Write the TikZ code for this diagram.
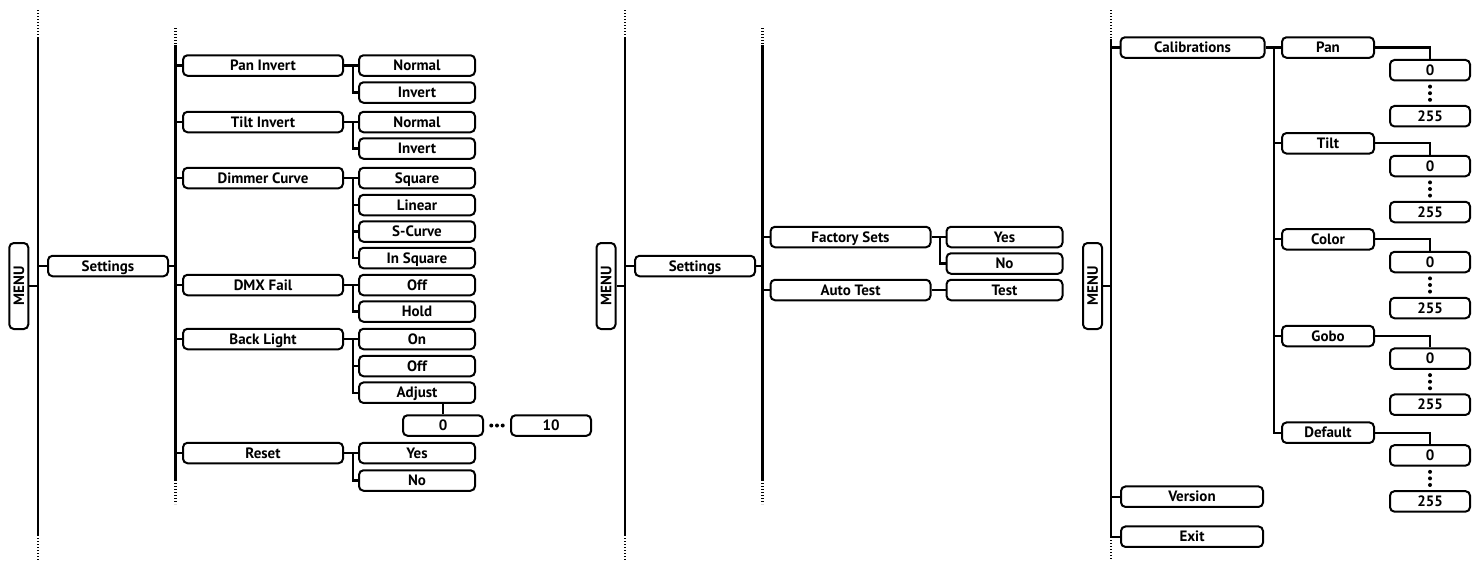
\documentclass[tikz,border=0pt]{standalone}
\usepackage{fontspec}
\setmainfont{PT Sans}
\usetikzlibrary{calc}
\begin{document}
\begin{tikzpicture}[x=1pt,y=-1pt,
  box/.style={draw, line width=2pt, rounded corners=4.5pt, minimum height=20.5pt, inner sep=0pt,
    text height=10.5pt, text depth=0pt, font=\bfseries\fontsize{15}{15}\selectfont},
  menubox/.style={box, rotate=90, minimum width=86pt, minimum height=19pt},
  conn/.style={line width=2.1pt},
  dotl/.style={line width=2.1pt, dash pattern=on 1.4pt off 1.6pt},
  lvA/.style={box, minimum width=160pt},
  lvB/.style={box, minimum width=116pt},
  vbox/.style={box, minimum width=80pt}]
\useasboundingbox (0,0) rectangle (1472,560);

% ================= LEFT SECTION =================
\coordinate (mlT) at (38,10); \coordinate (mlA) at (38,37);
\coordinate (mlB) at (38,535); \coordinate (mlE) at (38,560);
\draw[dotl] (mlT) -- (mlA); \draw[conn] (mlA) -- (mlB); \draw[dotl] (mlB) -- (mlE);
\node[menubox] (menuL) at (18.8,286) {MENU};
\draw[conn] (menuL.south) -- (menuL.south -| mlT);
\node[box, minimum width=120pt] (setL) at (108,266) {Settings};
\draw[conn] (setL.west) -- (setL.west -| mlT);

\coordinate (l2T) at (175.5,28); \coordinate (l2A) at (175.5,45);
\coordinate (l2B) at (175.5,480); \coordinate (l2E) at (175.5,504);
\draw[dotl] (l2T) -- (l2A); \draw[conn] (l2A) -- (l2B); \draw[dotl] (l2B) -- (l2E);
\draw[conn] (setL.east) -- (setL.east -| l2T);
\coordinate (jL) at (353,0);

\node[lvA] (panI) at (263,65.5) {Pan Invert};
\node[lvA] (tiltI) at (263,122) {Tilt Invert};
\node[lvA] (dimC) at (263,178) {Dimmer Curve};
\node[lvA] (dmxF) at (263,285) {DMX Fail};
\node[lvA] (backL) at (263,339) {Back Light};
\node[lvA] (resetL) at (263,453) {Reset};
\foreach \n in {panI,tiltI,dimC,dmxF,backL,resetL}
  \draw[conn] (\n.west) -- (\n.west -| l2T);

\node[lvB] (panN) at (417,65.5) {Normal};
\node[lvB] (panV) at (417,92.5) {Invert};
\node[lvB] (tiltN) at (417,122) {Normal};
\node[lvB] (tiltV) at (417,148.5) {Invert};
\node[lvB] (dSq) at (417,178) {Square};
\node[lvB] (dLin) at (417,205) {Linear};
\node[lvB] (dS) at (417,231.5) {S-Curve};
\node[lvB] (dIn) at (417,258) {In Square};
\node[lvB] (fOff) at (417,285) {Off};
\node[lvB] (fHold) at (417,311.5) {Hold};
\node[lvB] (bOn) at (417,339) {On};
\node[lvB] (bOff) at (417,366) {Off};
\node[lvB] (bAdj) at (417,392.7) {Adjust};
\node[lvB] (rYes) at (417,453) {Yes};
\node[lvB] (rNo) at (417,480.5) {No};

\draw[conn] (panI.east) -- (panN.west);
\draw[conn] (panN.west -| jL) |- (panV.west);
\draw[conn] (tiltI.east) -- (tiltN.west);
\draw[conn] (tiltN.west -| jL) |- (tiltV.west);
\draw[conn] (dimC.east) -- (dSq.west);
\draw[conn] (dSq.west -| jL) |- (dIn.west);
\draw[conn] (dLin.west -| jL) -- (dLin.west);
\draw[conn] (dS.west -| jL) -- (dS.west);
\draw[conn] (dmxF.east) -- (fOff.west);
\draw[conn] (fOff.west -| jL) |- (fHold.west);
\draw[conn] (backL.east) -- (bOn.west);
\draw[conn] (bOn.west -| jL) |- (bAdj.west);
\draw[conn] (bOff.west -| jL) -- (bOff.west);
\draw[conn] (resetL.east) -- (rYes.west);
\draw[conn] (rYes.west -| jL) |- (rNo.west);

\node[vbox] (v0) at (443,425.5) {0};
\node[vbox] (v10) at (551,425.5) {10};
\draw[conn] (v0.north) -- (v0.north |- bAdj.south);
\foreach \t in {0.28,0.5,0.72}
  \fill ($(v0.east)!\t!(v10.west)$) circle (2pt);

% ================= MIDDLE SECTION =================
\coordinate (mmT) at (625,10); \coordinate (mmA) at (625,37);
\coordinate (mmB) at (625,535); \coordinate (mmE) at (625,560);
\draw[dotl] (mmT) -- (mmA); \draw[conn] (mmA) -- (mmB); \draw[dotl] (mmB) -- (mmE);
\node[menubox] (menuM) at (606,286) {MENU};
\draw[conn] (menuM.south) -- (menuM.south -| mmT);
\node[box, minimum width=120pt] (setM) at (695,266) {Settings};
\draw[conn] (setM.west) -- (setM.west -| mmT);

\coordinate (m2T) at (762.5,28); \coordinate (m2A) at (762.5,45);
\coordinate (m2B) at (762.5,480); \coordinate (m2E) at (762.5,504);
\draw[dotl] (m2T) -- (m2A); \draw[conn] (m2A) -- (m2B); \draw[dotl] (m2B) -- (m2E);
\draw[conn] (setM.east) -- (setM.east -| m2T);
\coordinate (jM) at (940,0);

\node[lvA] (facS) at (850.5,237) {Factory Sets};
\node[lvA] (autoT) at (850.5,290) {Auto Test};
\draw[conn] (facS.west) -- (facS.west -| m2T);
\draw[conn] (autoT.west) -- (autoT.west -| m2T);
\node[lvB] (fYes) at (1004.5,237) {Yes};
\node[lvB] (fNo) at (1004.5,263.5) {No};
\node[lvB] (aTest) at (1004.5,290) {Test};
\draw[conn] (facS.east) -- (fYes.west);
\draw[conn] (fYes.west -| jM) |- (fNo.west);
\draw[conn] (autoT.east) -- (aTest.west);

% ================= RIGHT SECTION =================
\coordinate (mrT) at (1111,10); \coordinate (mrA) at (1111,39);
\coordinate (mrB) at (1111,537); \coordinate (mrE) at (1111,560);
\draw[dotl] (mrT) -- (mrA); \draw[conn] (mrA) -- (mrB); \draw[dotl] (mrB) -- (mrE);
\node[menubox] (menuR) at (1092.5,286) {MENU};
\draw[conn] (menuR.south) -- (menuR.south -| mrT);

\node[box, minimum width=144pt] (cal) at (1192.5,47.5) {Calibrations};
\node[box, minimum width=142pt] (ver) at (1192,496.7) {Version};
\node[box, minimum width=142pt] (ext) at (1192,536.7) {Exit};
\foreach \n in {cal,ver,ext}
  \draw[conn] (\n.west) -- (\n.west -| mrT);

\coordinate (subR) at (1274,0);
\foreach \nm/\lab/\yy in {rpan/Pan/47.5, rtilt/Tilt/143.3, rcolor/Color/239.3, rgobo/Gobo/336, rdef/Default/432.7} {
  \node[box, minimum width=92pt] (\nm) at (1328,\yy) {\lab};
  \node[vbox] (\nm0) at (1430,{\yy+22.7}) {0};
  \node[vbox] (\nm255) at (1430,{\yy+68.7}) {255};
  \draw[conn] (\nm.east) -| (\nm0.north);
  \foreach \t in {0.22,0.5,0.78}
    \fill ($(\nm0.south)!\t!(\nm255.north)$) circle (2pt);
}
\draw[conn] (cal.east) -- (rpan.west);
\draw[conn] (rpan.west -| subR) |- (rdef.west);
\foreach \n in {rtilt,rcolor,rgobo}
  \draw[conn] (\n.west -| subR) -- (\n.west);
\end{tikzpicture}
\end{document}
